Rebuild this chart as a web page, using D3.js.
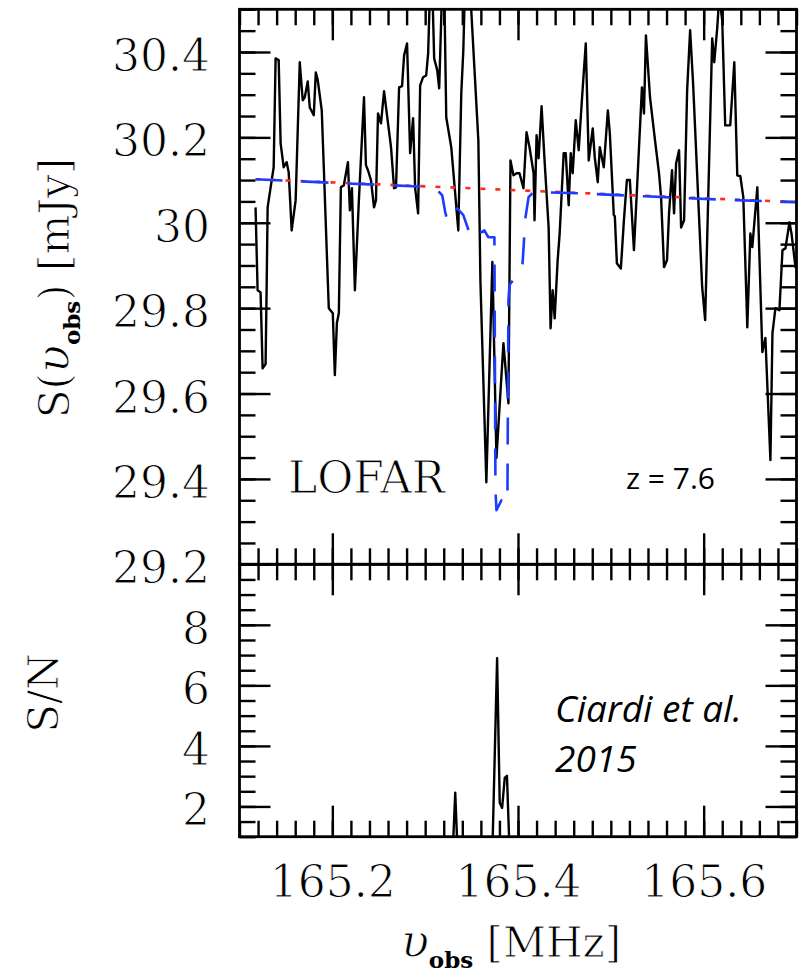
<!DOCTYPE html>
<html>
<head>
<meta charset="utf-8">
<script src="https://cdn.jsdelivr.net/npm/d3@7"></script>
<style>
  html, body { margin: 0; padding: 0; background: #fff; }
  svg { display: block; }
  .thin { stroke: #fff; stroke-width: 1px; paint-order: fill; }
  .sub { stroke: none; }
</style>
</head>
<body>
<svg id="chart" width="802" height="976"></svg>
<script>
// Observed LOFAR spectrum, frequency [MHz] and flux density [mJy]
const freqObs = [
  165.1173,165.1195,165.1227,165.1249,165.1281,165.1292,165.1303,165.1368,165.1389,165.1422,
  165.1443,165.1476,165.1508,165.1530,165.1562,165.1605,165.1649,165.1681,165.1703,165.1735,
  165.1757,165.1800,165.1822,165.1843,165.1886,165.1908,165.1951,165.1962,165.2005,165.2027,
  165.2049,165.2070,165.2092,165.2124,165.2168,165.2189,165.2211,165.2243,165.2286,165.2341,
  165.2362,165.2384,165.2416,165.2449,165.2470,165.2492,165.2524,165.2557,165.2600,165.2632,
  165.2665,165.2686,165.2719,165.2751,165.2773,165.2805,165.2838,165.2870,165.2892,165.2924,
  165.2946,165.2978,165.3011,165.3032,165.3054,165.3076,165.3097,165.3130,165.3151,165.3184,
  165.3205,165.3227,165.3281,165.3357,165.3389,165.3411,165.3432,165.3476,165.3530,165.3573,
  165.3595,165.3659,165.3724,165.3768,165.3843,165.3897,165.3919,165.3951,165.3984,165.4016,
  165.4059,165.4092,165.4124,165.4168,165.4178,165.4200,165.4222,165.4254,165.4286,165.4330,
  165.4351,165.4373,165.4395,165.4427,165.4449,165.4492,165.4514,165.4546,165.4568,165.4589,
  165.4622,165.4654,165.4686,165.4730,165.4762,165.4805,165.4827,165.4859,165.4881,165.4924,
  165.4968,165.4989,165.5032,165.5043,165.5065,165.5108,165.5141,165.5173,165.5205,165.5249,
  165.5281,165.5335,165.5357,165.5378,165.5422,165.5476,165.5519,165.5541,165.5573,165.5605,
  165.5627,165.5659,165.5681,165.5703,165.5735,165.5757,165.5789,165.5822,165.5854,165.5886,
  165.5984,165.6016,165.6092,165.6114,165.6146,165.6168,165.6200,165.6232,165.6286,165.6330,
  165.6362,165.6395,165.6427,165.6459,165.6470,165.6503,165.6524,165.6578,165.6632,165.6665,
  165.6719,165.6741,165.6773,165.6816,165.6849,165.6881,165.6924,165.6946,165.6989,165.7022
];
const fluxObs = [
  30.036,29.842,29.837,29.659,29.669,29.842,30.036,30.130,30.385,30.381,
  30.186,30.130,30.142,30.118,29.982,30.053,30.376,30.287,30.294,30.331,
  30.270,30.252,30.352,30.334,30.263,30.130,29.865,29.800,29.788,29.643,
  29.765,29.788,30.083,30.088,30.142,30.029,30.081,29.842,30.053,30.294,
  30.135,30.123,30.100,30.036,30.053,30.256,30.233,30.308,30.233,30.177,
  30.081,30.083,30.317,30.320,30.392,30.420,30.163,30.245,30.081,30.022,
  30.322,30.341,30.345,30.397,30.560,30.560,30.385,30.357,30.315,30.560,
  30.560,30.247,30.177,29.982,30.303,30.404,30.580,30.580,30.364,30.193,
  29.865,29.392,29.908,29.449,29.718,29.577,30.146,30.111,30.116,30.116,
  30.081,30.212,30.177,30.116,30.006,30.205,30.151,30.273,30.146,29.989,
  29.753,29.842,29.776,29.912,29.975,30.163,30.163,30.041,30.163,30.116,
  30.240,30.170,30.280,30.420,30.146,30.221,30.153,30.095,30.177,30.130,
  30.263,30.210,30.018,30.015,29.905,29.893,30.006,30.100,30.100,29.936,
  30.076,30.317,30.256,30.439,30.294,30.193,30.116,30.060,29.896,29.912,
  30.022,30.123,30.022,30.139,30.170,29.989,30.006,30.310,30.451,30.327,
  29.849,29.772,30.432,30.376,30.456,30.530,30.474,30.228,30.228,30.376,
  30.111,30.109,30.060,29.835,29.755,29.975,29.943,30.083,29.697,29.730,
  29.444,29.741,29.800,29.795,29.936,29.940,30.001,29.975,29.896,29.889
];

// Model spectrum with the 21 cm forest absorption (blue dashed)
const freqModel = [
  165.1173,165.2168,165.2924,165.3065,165.3141,165.3184,165.3216,165.3238,165.3281,165.3324,
  165.3346,165.3411,165.3497,165.3638,165.3681,165.3746,165.3757,165.3768,165.3822,165.3854,
  165.3886,165.3897,165.3908,165.3984,165.4049,165.4081,165.4114,165.4168,165.4654,165.5368,
  165.6200,165.7032
];
const fluxModel = [
  30.102,30.092,30.085,30.081,30.074,30.064,30.025,30.006,30.006,30.022,
  30.034,30.018,29.964,29.982,29.966,29.966,29.374,29.327,29.350,29.341,
  29.350,29.819,29.854,29.877,29.905,30.013,30.060,30.072,30.069,30.062,
  30.054,30.048
];

// Intrinsic continuum of the source (red dotted)
const freqCont = [165.1173, 165.25, 165.40, 165.55, 165.7032];
const fluxCont = [30.102, 30.090, 30.076, 30.062, 30.048];

// Signal-to-noise of the absorption features
const freqSnr = [165.3290,165.3324,165.3355,165.3720,165.3775,165.3803,165.3829,165.3857,165.3881,165.3915];
const valSnr  = [0.0, 2.45, 0.0, 0.0, 6.90, 2.12, 1.95, 2.94, 3.01, 0.0];

// Axis ticks
const xMajor = [165.2, 165.4, 165.6];
const topMajor = [29.2, 29.4, 29.6, 29.8, 30, 30.2, 30.4];
const botMajor = [2, 4, 6, 8];

// ---------------------------------------------------------------
const svg = d3.select("#chart");
const L = 239.5, R = 796.5, T = 9.3, M = 564.3, B = 836.7;
const serif = "'DejaVu Serif', serif";
const sans = "'Open Sans', sans-serif";

const x = d3.scaleLinear().domain([165.1, 165.7]).range([L, R]);
const yTop = d3.scaleLinear().domain([29.2, 30.5]).range([M, T]);
const yBot = d3.scaleLinear().domain([1, 10]).range([B, M]);

const xMinor = d3.range(0, 31).map(i => 165.1 + i * 0.02);
const topMinor = d3.range(0, 27).map(i => 29.2 + i * 0.05);
const botMinor = d3.range(0, 19).map(i => 1 + i * 0.5);

const defs = svg.append("defs");
defs.append("clipPath").attr("id", "clipTop")
  .append("rect").attr("x", L).attr("y", T).attr("width", R - L).attr("height", M - T);
defs.append("clipPath").attr("id", "clipBot")
  .append("rect").attr("x", L).attr("y", M).attr("width", R - L).attr("height", B - M);

function styleAxis(g) {
  g.select(".domain").remove();
  g.selectAll(".tick line").attr("stroke", "#000").attr("stroke-width", 2.4);
  g.attr("font-family", serif).attr("font-size", 44);
  g.selectAll("text").attr("fill", "#000").attr("class", "thin");
}

function ticks(gen, tx, ty) {
  const g = svg.append("g").attr("transform", `translate(${tx},${ty})`).call(gen);
  styleAxis(g);
  return g;
}

// ---- top panel ticks
ticks(d3.axisTop(x).tickValues(xMinor).tickSize(-16).tickFormat(""), 0, T);
ticks(d3.axisTop(x).tickValues(xMajor).tickSize(-31).tickFormat(""), 0, T);
ticks(d3.axisBottom(x).tickValues(xMinor).tickSize(-16).tickFormat(""), 0, M);
ticks(d3.axisBottom(x).tickValues(xMajor).tickSize(-31).tickFormat(""), 0, M);
ticks(d3.axisRight(yTop).tickValues(topMinor).tickSize(-16).tickFormat(""), R, 0);
ticks(d3.axisRight(yTop).tickValues(topMajor).tickSize(-31).tickFormat(""), R, 0);
ticks(d3.axisLeft(yTop).tickValues(topMinor).tickSize(-16).tickFormat(""), L, 0);
const yTopLab = ticks(d3.axisLeft(yTop).tickValues(topMajor).tickSize(-31).tickPadding(29.5)
  .tickFormat(d3.format("~g")), L, 0);
yTopLab.selectAll("text").attr("dy", "0.42em");

// ---- bottom panel ticks
ticks(d3.axisTop(x).tickValues(xMinor).tickSize(-16).tickFormat(""), 0, M);
ticks(d3.axisTop(x).tickValues(xMajor).tickSize(-31).tickFormat(""), 0, M);
ticks(d3.axisBottom(x).tickValues(xMinor).tickSize(-16).tickFormat(""), 0, B);
ticks(d3.axisBottom(x).tickValues(xMajor).tickSize(-31).tickPadding(29)
  .tickFormat(d3.format(".1f")), 0, B);
ticks(d3.axisRight(yBot).tickValues(botMinor).tickSize(-16).tickFormat(""), R, 0);
ticks(d3.axisRight(yBot).tickValues(botMajor).tickSize(-31).tickFormat(""), R, 0);
ticks(d3.axisLeft(yBot).tickValues(botMinor).tickSize(-16).tickFormat(""), L, 0);
const yBotLab = ticks(d3.axisLeft(yBot).tickValues(botMajor).tickSize(-31).tickPadding(29.5)
  .tickFormat(d3.format("d")), L, 0);
yBotLab.selectAll("text").attr("dy", "0.42em");

// ---- curves
const lineTop = d3.line().x(d => x(d[0])).y(d => yTop(d[1]));
const lineBot = d3.line().x(d => x(d[0])).y(d => yBot(d[1]));

const obs = freqObs.map((f, i) => [f, fluxObs[i]]);
const model = freqModel.map((f, i) => [f, fluxModel[i]]);
const cont = freqCont.map((f, i) => [f, fluxCont[i]]);
const snr = freqSnr.map((f, i) => [f, valSnr[i]]);

const gTop = svg.append("g").attr("clip-path", "url(#clipTop)");
gTop.append("path").datum(obs).attr("d", lineTop)
  .attr("fill", "none").attr("stroke", "#000").attr("stroke-width", 2.4)
  .attr("stroke-linejoin", "round");
gTop.append("path").datum(cont).attr("d", lineTop)
  .attr("fill", "none").attr("stroke", "#ff2a1a").attr("stroke-width", 2.6)
  .attr("stroke-dasharray", "5,10");
gTop.append("path").datum(model).attr("d", lineTop)
  .attr("fill", "none").attr("stroke", "#1c3cff").attr("stroke-width", 2.6)
  .attr("stroke-dasharray", "27,19").attr("stroke-linejoin", "round");

const gBot = svg.append("g").attr("clip-path", "url(#clipBot)");
gBot.append("path").datum(snr).attr("d", lineBot)
  .attr("fill", "none").attr("stroke", "#000").attr("stroke-width", 2.4)
  .attr("stroke-linejoin", "round");

// ---- frames
svg.append("rect").attr("x", L).attr("y", T).attr("width", R - L).attr("height", M - T)
  .attr("fill", "none").attr("stroke", "#000").attr("stroke-width", 2.8);
svg.append("rect").attr("x", L).attr("y", M).attr("width", R - L).attr("height", B - M)
  .attr("fill", "none").attr("stroke", "#000").attr("stroke-width", 2.8);

// ---- axis titles
const xt = svg.append("text").attr("class", "thin").attr("x", 511).attr("y", 957)
  .attr("text-anchor", "middle").attr("font-family", serif).attr("font-size", 42).attr("fill", "#000");
xt.append("tspan").attr("font-style", "italic").attr("font-size", 46).text("υ");
xt.append("tspan").attr("class", "sub").attr("font-size", 23).attr("font-weight", "bold")
  .attr("dy", 11).text("obs");
xt.append("tspan").attr("dy", -11).text("  [MHz]");

const yt = svg.append("text").attr("class", "thin").attr("transform", "translate(69,288) rotate(-90)")
  .attr("text-anchor", "middle").attr("font-family", serif).attr("font-size", 42).attr("fill", "#000");
yt.append("tspan").text("S(");
yt.append("tspan").attr("font-style", "italic").attr("font-size", 46).text("υ");
yt.append("tspan").attr("class", "sub").attr("font-size", 23).attr("font-weight", "bold")
  .attr("dy", 11).text("obs");
yt.append("tspan").attr("dy", -11).text(")  [mJy]");

svg.append("text").attr("class", "thin").attr("transform", "translate(58,693) rotate(-90)")
  .attr("text-anchor", "middle").attr("font-family", serif).attr("font-size", 42)
  .attr("fill", "#000").text("S/N");

// ---- annotations
svg.append("text").attr("class", "thin").attr("x", 288).attr("y", 493).attr("font-family", serif)
  .attr("font-size", 44).attr("fill", "#000").text("LOFAR");
svg.append("text").attr("x", 626).attr("y", 489).attr("font-family", sans)
  .attr("font-weight", 400).attr("font-size", 30).attr("fill", "#000").text("z = 7.6");
svg.append("text").attr("x", 555).attr("y", 722).attr("font-family", sans)
  .attr("font-style", "italic").attr("font-weight", 400).attr("font-size", 37)
  .attr("fill", "#000").text("Ciardi et al.");
svg.append("text").attr("x", 555).attr("y", 772).attr("font-family", sans)
  .attr("font-style", "italic").attr("font-weight", 400).attr("font-size", 37)
  .attr("fill", "#000").text("2015");
</script>
</body>
</html>
